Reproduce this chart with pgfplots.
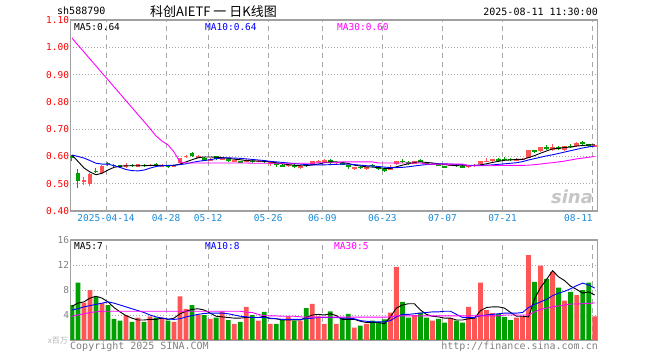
\documentclass[border=0pt]{standalone}
\usepackage{pgfplots}
\pgfplotsset{compat=1.18}
\usepackage{pgfplotstable}
\usepackage{fontspec}
\setmainfont{DejaVu Sans Mono}
\newfontfamily\cjk{Noto Sans CJK SC}
\newfontfamily\sinafont{DejaVu Sans}
\definecolor{cred}{HTML}{FF5555}
\definecolor{cgreen}{HTML}{00A000}
\definecolor{cframe}{HTML}{A0A0A0}
\definecolor{cgrid}{HTML}{A8A8A8}
\definecolor{cdate}{HTML}{1A8CD8}
\definecolor{cmag}{HTML}{FF00FF}
\newcommand{\lf}{\fontsize{9.5bp}{11bp}\selectfont}

% price candles: up (red) and down (green)
\pgfplotstableread{
i o h l c
2 0.509 0.523 0.495 0.512
3 0.498 0.540 0.490 0.534
5 0.538 0.567 0.535 0.565
9 0.565 0.575 0.556 0.568
11 0.563 0.573 0.561 0.571
13 0.566 0.573 0.564 0.570
15 0.564 0.571 0.562 0.567
17 0.563 0.570 0.561 0.567
18 0.575 0.595 0.573 0.593
19 0.600 0.607 0.596 0.603
21 0.598 0.604 0.595 0.601
23 0.587 0.593 0.584 0.590
25 0.590 0.597 0.587 0.593
27 0.583 0.588 0.581 0.586
29 0.579 0.590 0.578 0.586
31 0.580 0.587 0.578 0.585
33 0.574 0.579 0.566 0.578
36 0.565 0.572 0.563 0.569
38 0.561 0.568 0.554 0.565
40 0.570 0.585 0.568 0.584
41 0.578 0.588 0.576 0.585
42 0.580 0.590 0.576 0.587
44 0.570 0.576 0.568 0.574
47 0.553 0.563 0.551 0.561
49 0.557 0.563 0.550 0.560
53 0.552 0.567 0.550 0.563
54 0.572 0.584 0.570 0.583
57 0.573 0.585 0.571 0.584
60 0.571 0.575 0.569 0.573
63 0.566 0.572 0.564 0.569
66 0.560 0.568 0.558 0.567
67 0.566 0.571 0.563 0.569
68 0.571 0.583 0.569 0.582
69 0.582 0.593 0.578 0.585
70 0.583 0.590 0.581 0.589
74 0.586 0.593 0.584 0.591
75 0.589 0.594 0.587 0.592
76 0.595 0.624 0.594 0.623
78 0.620 0.636 0.618 0.634
80 0.622 0.645 0.620 0.635
82 0.624 0.639 0.620 0.638
84 0.638 0.653 0.636 0.651
87 0.637 0.644 0.633 0.642
}\upc
\pgfplotstableread{
i o h l c
0 0.600 0.607 0.585 0.594
1 0.540 0.553 0.483 0.511
4 0.548 0.556 0.538 0.545
6 0.577 0.581 0.565 0.573
7 0.569 0.571 0.560 0.566
8 0.567 0.570 0.556 0.564
10 0.569 0.571 0.562 0.566
12 0.569 0.572 0.563 0.566
14 0.573 0.575 0.564 0.567
16 0.566 0.568 0.556 0.563
20 0.612 0.616 0.597 0.602
22 0.595 0.598 0.582 0.585
24 0.600 0.603 0.588 0.592
26 0.590 0.593 0.578 0.584
28 0.583 0.585 0.575 0.579
30 0.585 0.587 0.575 0.580
32 0.583 0.585 0.577 0.580
34 0.575 0.577 0.562 0.567
35 0.568 0.571 0.560 0.565
37 0.570 0.572 0.556 0.563
39 0.568 0.570 0.563 0.566
43 0.587 0.589 0.572 0.575
45 0.575 0.577 0.569 0.572
46 0.567 0.569 0.553 0.561
48 0.562 0.564 0.555 0.558
50 0.570 0.572 0.561 0.564
51 0.561 0.563 0.550 0.556
52 0.553 0.557 0.544 0.549
55 0.584 0.589 0.575 0.580
56 0.581 0.583 0.570 0.574
58 0.588 0.591 0.578 0.580
59 0.577 0.579 0.572 0.574
61 0.572 0.574 0.565 0.568
62 0.564 0.566 0.556 0.561
64 0.569 0.571 0.562 0.566
65 0.564 0.567 0.556 0.561
71 0.590 0.595 0.581 0.587
72 0.592 0.597 0.583 0.588
73 0.590 0.593 0.585 0.588
77 0.622 0.624 0.613 0.619
79 0.634 0.642 0.623 0.630
81 0.635 0.637 0.623 0.628
83 0.640 0.645 0.632 0.637
85 0.652 0.657 0.642 0.648
86 0.645 0.647 0.635 0.638
}\dnc

% price moving averages
\pgfplotstableread{
i m5 m10 m30
0 0.605 0.605 1.034
1 0.582 0.600 1.008
2 0.558 0.594 0.983
3 0.543 0.585 0.957
4 0.533 0.575 0.932
5 0.538 0.572 0.906
6 0.550 0.572 0.881
7 0.560 0.566 0.855
8 0.564 0.560 0.830
9 0.566 0.552 0.804
10 0.566 0.548 0.779
11 0.566 0.547 0.753
12 0.566 0.550 0.728
13 0.567 0.557 0.702
14 0.567 0.563 0.675
15 0.567 0.566 0.656
16 0.566 0.567 0.642
17 0.567 0.568 0.616
18 0.572 0.570 0.579
19 0.580 0.573 0.576
20 0.588 0.578 0.576
21 0.595 0.582 0.576
22 0.598 0.585 0.576
23 0.598 0.588 0.576
24 0.597 0.592 0.576
25 0.596 0.594 0.576
26 0.593 0.595 0.576
27 0.590 0.594 0.576
28 0.588 0.593 0.576
29 0.585 0.591 0.576
30 0.584 0.589 0.575
31 0.583 0.587 0.575
32 0.582 0.585 0.575
33 0.580 0.582 0.575
34 0.577 0.580 0.575
35 0.573 0.578 0.575
36 0.570 0.576 0.575
37 0.568 0.574 0.575
38 0.566 0.572 0.575
39 0.566 0.570 0.575
40 0.569 0.569 0.575
41 0.572 0.569 0.577
42 0.577 0.569 0.577
43 0.580 0.570 0.577
44 0.580 0.571 0.577
45 0.578 0.572 0.580
46 0.574 0.572 0.580
47 0.568 0.570 0.580
48 0.565 0.568 0.580
49 0.562 0.566 0.580
50 0.561 0.565 0.580
51 0.559 0.563 0.576
52 0.556 0.561 0.576
53 0.556 0.559 0.576
54 0.562 0.559 0.576
55 0.568 0.560 0.576
56 0.573 0.562 0.576
57 0.578 0.565 0.576
58 0.580 0.568 0.576
59 0.578 0.570 0.572
60 0.576 0.572 0.572
61 0.573 0.573 0.572
62 0.570 0.573 0.572
63 0.568 0.572 0.572
64 0.566 0.571 0.572
65 0.566 0.570 0.572
66 0.566 0.567 0.566
67 0.567 0.567 0.566
68 0.569 0.567 0.566
69 0.573 0.568 0.566
70 0.578 0.569 0.566
71 0.582 0.571 0.567
72 0.586 0.573 0.567
73 0.587 0.575 0.567
74 0.589 0.577 0.567
75 0.589 0.581 0.567
76 0.596 0.587 0.568
77 0.603 0.592 0.570
78 0.612 0.597 0.572
79 0.620 0.602 0.575
80 0.628 0.606 0.577
81 0.629 0.611 0.580
82 0.633 0.616 0.583
83 0.634 0.621 0.587
84 0.638 0.626 0.591
85 0.640 0.631 0.594
86 0.642 0.635 0.597
87 0.643 0.638 0.600
}\pma

% volumes
\pgfplotstableread{
i v
2 6.0
3 8.0
5 5.9
9 4.0
11 3.6
13 3.8
15 3.6
17 2.9
18 7.0
19 5.0
21 4.0
23 3.4
25 4.6
27 2.6
29 5.3
31 3.1
33 2.6
36 3.8
38 3.1
40 5.8
41 3.8
42 2.6
44 2.6
47 2.0
49 2.6
53 4.4
54 11.7
57 4.0
60 3.1
63 3.5
66 5.3
67 3.6
68 9.2
69 4.8
70 4.3
74 3.6
75 3.8
76 13.6
78 11.9
80 10.9
82 6.3
84 7.2
87 3.8
}\upv
\pgfplotstableread{
i v
0 5.6
1 9.2
4 6.9
6 5.6
7 3.4
8 3.1
10 2.9
12 2.9
14 3.6
16 3.1
20 5.6
22 4.0
24 3.6
26 3.2
28 2.9
30 4.0
32 4.5
34 2.6
35 3.2
37 3.1
39 5.1
43 4.6
45 3.6
46 4.2
48 2.3
50 3.1
51 2.9
52 3.3
55 6.1
56 3.6
58 4.4
59 3.6
61 3.4
62 2.8
64 3.1
65 2.8
71 4.2
72 3.7
73 3.2
77 9.3
79 9.8
81 8.4
83 7.7
85 8.0
86 9.2
}\dnv

% volume moving averages
\pgfplotstableread{
i m5 m10 m30
0 5.4 4.8 3.8
1 5.9 5.0 4.0
2 6.1 5.3 4.2
3 6.7 5.5 4.4
4 7.0 5.7 4.5
5 6.7 5.9 4.6
6 6.1 6.1 4.6
7 5.2 5.9 4.6
8 4.5 5.6 4.6
9 3.9 5.3 4.6
10 3.5 5.0 4.6
11 3.2 4.7 4.6
12 3.2 4.4 4.6
13 3.3 4.0 4.6
14 3.3 3.7 4.6
15 3.5 3.5 4.6
16 3.3 3.35 4.6
17 3.5 3.3 4.6
18 4.2 3.4 4.6
19 4.6 3.7 4.6
20 4.9 3.9 4.6
21 5.0 4.1 4.6
22 4.8 4.25 4.6
23 4.3 4.3 4.6
24 3.8 4.3 4.6
25 3.7 4.3 4.6
26 3.6 4.2 4.6
27 3.5 4.0 4.6
28 3.5 3.8 4.6
29 3.6 3.7 4.45
30 3.6 3.6 4.4
31 3.6 3.6 4.1
32 3.8 3.6 3.9
33 3.4 3.5 3.85
34 3.4 3.4 3.85
35 3.2 3.3 3.8
36 3.2 3.3 3.8
37 3.2 3.3 3.8
38 3.2 3.3 3.7
39 3.6 3.4 3.65
40 4.0 3.5 3.65
41 4.1 3.6 3.65
42 4.0 3.6 3.65
43 4.2 3.6 3.65
44 3.9 3.6 3.65
45 3.3 3.5 3.65
46 3.3 3.5 3.65
47 3.3 3.4 3.65
48 3.0 3.1 3.65
49 2.8 3.0 3.65
50 2.8 2.9 3.65
51 2.8 2.9 3.65
52 2.6 2.9 3.65
53 3.7 3.1 3.7
54 5.1 3.7 3.85
55 5.6 4.1 3.85
56 5.8 4.1 3.85
57 5.8 4.2 3.85
58 4.8 4.3 3.85
59 4.1 4.4 3.85
60 3.8 4.5 3.85
61 3.7 4.5 3.85
62 3.5 4.6 3.85
63 3.5 4.6 3.85
64 3.2 4.1 3.85
65 3.2 3.6 3.85
66 3.4 3.6 3.85
67 3.5 3.6 3.85
68 4.7 3.9 3.85
69 5.2 4.0 3.85
70 5.3 4.1 3.85
71 5.3 4.2 3.85
72 5.1 4.3 4.0
73 4.4 4.3 4.0
74 3.8 4.3 4.0
75 3.8 4.4 4.0
76 3.7 5.2 4.0
77 6.6 5.7 4.5
78 8.4 6.1 4.9
79 9.7 6.5 5.1
80 11.1 7.1 5.3
81 10.1 7.5 5.45
82 9.5 7.8 5.6
83 8.6 8.2 5.75
84 8.1 8.7 5.76
85 7.5 9.1 5.8
86 7.7 8.8 5.85
87 7.2 8.3 5.95
}\vma

\pgfplotsset{
  kbase/.style={
    scale only axis, width=527.2bp, anchor=south west,
    xmin=-0.27, xmax=87.47,
    axis line style={draw=cframe, line width=1.2bp},
    major tick length=0pt, tick style={draw=none},
    xtick={5.67,15.67,22.67,32.67,41.67,51.67,61.67,71.67,86.67},
    xmajorgrids, ymajorgrids,
    major x grid style={draw=cgrid, line width=0.9bp, dash pattern=on 4.5bp off 4.5bp},
    major y grid style={draw=cgrid, line width=0.9bp, dash pattern=on 1bp off 2bp},
    yticklabel style={font=\lf, inner sep=1bp},
    xticklabel style={font=\lf, text=cdate},
    clip=true,
  },
  candle/.style={draw=none, mark=none, forget plot,
    error bars/.cd, y dir=both, y explicit, error mark=none,
    error bar style={line cap=butt, #1}},
}

\begin{document}
\begin{tikzpicture}
\useasboundingbox (0,0) rectangle (660bp,360bp);

% ---------------- price panel ----------------
\begin{axis}[kbase, at={(70.3bp,149bp)}, height=191bp,
  ymin=0.4, ymax=1.1,
  ytick={0.4,0.5,0.6,0.7,0.8,0.9,1.0,1.1},
  yticklabels={0.40,0.50,0.60,0.70,0.80,0.90,1.00,1.10},
  yticklabel style={text=red},
  xticklabels={2025-04-14,04-28,05-12,05-26,06-09,06-23,07-07,07-21,\makebox[0pt][r]{08-11}},
]
% wicks
\addplot[candle={draw=cred, line width=1bp}] table[x=i,
  y expr={(\thisrow{h}+\thisrow{l})/2},
  y error expr={(\thisrow{h}-\thisrow{l})/2}] {\upc};
\addplot[candle={draw=cgreen, line width=1bp}] table[x=i,
  y expr={(\thisrow{h}+\thisrow{l})/2},
  y error expr={(\thisrow{h}-\thisrow{l})/2}] {\dnc};
% bodies
\addplot[candle={draw=cred, line width=4.8bp}] table[x=i,
  y expr={(\thisrow{o}+\thisrow{c})/2},
  y error expr={max(abs(\thisrow{c}-\thisrow{o})/2,0.0015)}] {\upc};
\addplot[candle={draw=cgreen, line width=4.8bp}] table[x=i,
  y expr={(\thisrow{o}+\thisrow{c})/2},
  y error expr={max(abs(\thisrow{c}-\thisrow{o})/2,0.0015)}] {\dnc};
% moving averages
\addplot[black, line width=0.9bp] table[x=i, y=m5] {\pma};
\addplot[blue, line width=0.9bp] table[x=i, y=m10] {\pma};
\addplot[cmag, line width=0.9bp] table[x=i, y=m30] {\pma};
\end{axis}

% ---------------- volume panel ----------------
\begin{axis}[kbase, at={(70.3bp,20bp)}, height=100bp,
  ymin=0, ymax=16,
  ytick={4,8,12,16}, yticklabels={4,8,12,16},
  yticklabel style={text=gray},
  xticklabels={},
]
\addplot[ybar, bar width=4.8bp, bar shift=0pt, fill=cred, draw=none] table[x=i, y=v] {\upv};
\addplot[ybar, bar width=4.8bp, bar shift=0pt, fill=cgreen, draw=none] table[x=i, y=v] {\dnv};
\addplot[black, line width=0.9bp] table[x=i, y=m5] {\vma};
\addplot[blue, line width=0.9bp] table[x=i, y=m10] {\vma};
\addplot[cmag, line width=0.9bp] table[x=i, y=m30] {\vma};
\end{axis}

% ---------------- texts ----------------
\node[anchor=west, inner sep=0pt, font=\fontsize{10bp}{12bp}\selectfont] at (57bp,349bp) {sh588790};
\node[anchor=west, inner sep=0pt, font=\cjk\fontsize{13bp}{15bp}\selectfont] at (150bp,348bp) {科创AIETF 一 日K线图};
\node[anchor=east, inner sep=0pt, font=\fontsize{10bp}{12bp}\selectfont] at (598bp,348bp) {2025-08-11 11:30:00};

\node[anchor=west, inner sep=0pt, font=\lf] at (74bp,333bp) {MA5:0.64};
\node[anchor=west, inner sep=0pt, font=\lf, text=blue] at (205bp,333bp) {MA10:0.64};
\node[anchor=west, inner sep=0pt, font=\lf, text=cmag] at (337bp,333bp) {MA30:0.60};

\node[anchor=west, inner sep=0pt, font=\lf] at (74bp,114bp) {MA5:7};
\node[anchor=west, inner sep=0pt, font=\lf, text=blue] at (205bp,114bp) {MA10:8};
\node[anchor=west, inner sep=0pt, font=\lf, text=cmag] at (334bp,114bp) {MA30:5};

\node[anchor=east, inner sep=0pt, font=\cjk\fontsize{8bp}{9bp}\selectfont, text=gray!60] at (68bp,19bp) {x百万};
\node[anchor=west, inner sep=0pt, font=\fontsize{10bp}{12bp}\selectfont, text=gray] at (70bp,13bp) {Copyright 2025 SINA.COM};
\node[anchor=east, inner sep=0pt, font=\fontsize{10bp}{12bp}\selectfont, text=gray] at (598bp,13bp) {http://finance.sina.com.cn};

\node[inner sep=0pt, font=\sinafont\bfseries\itshape\fontsize{18bp}{20bp}\selectfont, text=gray!45] at (572bp,163bp) {sina};
\end{tikzpicture}
\end{document}
